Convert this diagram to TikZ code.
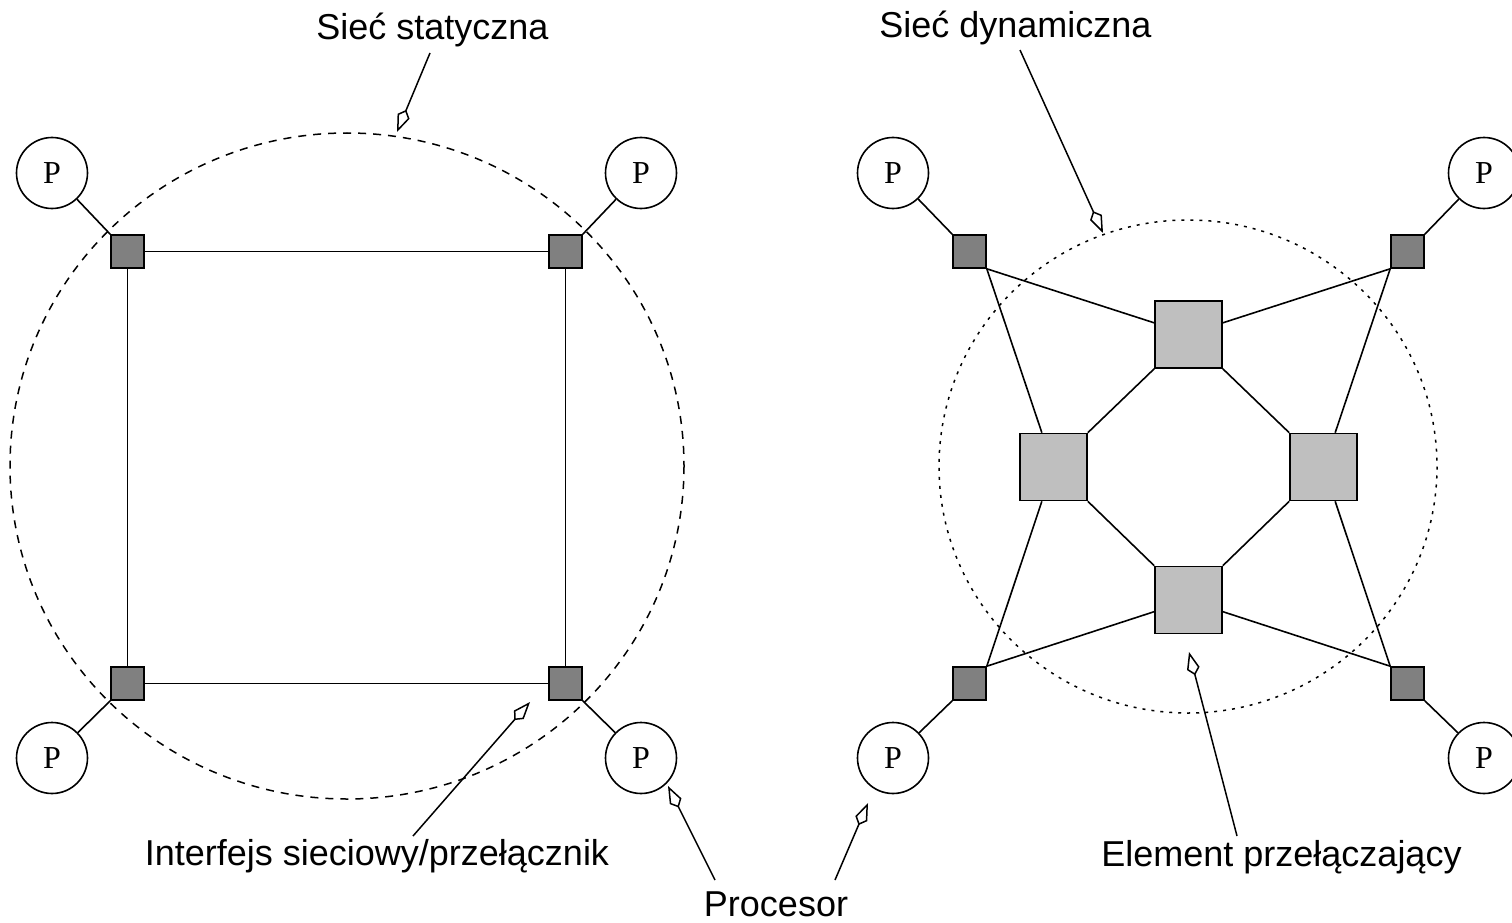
\documentclass[tikz,border=0pt]{standalone}
\usepackage{fontspec}
\setmainfont{Liberation Sans}
\newfontfamily\procfont{Liberation Serif}
\usetikzlibrary{arrows.meta,calc}

\begin{document}
\begin{tikzpicture}[x=1pt,y=-1pt,
  line width=1.6pt,
  proc/.style={circle,draw,fill=white,minimum size=71pt,inner sep=0pt,
    font=\procfont\fontsize{32}{32}\selectfont},
  iface/.style={rectangle,draw,fill=black!50,minimum size=33pt,inner sep=0pt},
  switchbox/.style={rectangle,draw,fill=black!25,minimum size=67pt,inner sep=0pt},
  caption/.style={anchor=base,inner sep=0pt,font=\fontsize{36}{40}\selectfont},
  pointer/.style={line width=1.5pt,-{Kite[open,length=24pt,width=13pt,inset=7pt]}},
  staticring/.style={line width=1.5pt,dash pattern=on 8pt off 7pt},
  dynring/.style={line width=1.5pt,dash pattern=on 3pt off 6pt},
]
\clip (0,0) rectangle (1512,923);
\fill[white] (0,0) rectangle (1512,923);

% ---------- static network ----------
\draw[staticring] (347,466) ellipse [x radius=337, y radius=333];

\node[iface] (s1) at (127.5,251.5) {};
\node[iface] (s2) at (565.5,251.5) {};
\node[iface] (s3) at (127.5,683.5) {};
\node[iface] (s4) at (565.5,683.5) {};

\node[proc] (p1) at (52,173) {P};
\node[proc] (p2) at (641,173) {P};
\node[proc] (p3) at (52,758) {P};
\node[proc] (p4) at (641,758) {P};

\draw (s1) -- (s2);
\draw (s2) -- (s4);
\draw (s4) -- (s3);
\draw (s3) -- (s1);

\draw (p1) -- (s1.north west);
\draw (p2) -- (s2.north east);
\draw (p3) -- (s3.south west);
\draw (p4) -- (s4.south east);

% ---------- dynamic network ----------
\draw[dynring] (1188,466.5) ellipse [x radius=249, y radius=246.5];

\node[iface] (d1) at (969.5,251.5) {};
\node[iface] (d2) at (1407.5,251.5) {};
\node[iface] (d3) at (969.5,683.5) {};
\node[iface] (d4) at (1407.5,683.5) {};

\node[proc] (q1) at (893,173) {P};
\node[proc] (q2) at (1484,173) {P};
\node[proc] (q3) at (893,758) {P};
\node[proc] (q4) at (1484,758) {P};

\node[switchbox] (T) at (1188.5,334.5) {};
\node[switchbox] (L) at (1053.5,467) {};
\node[switchbox] (R) at (1323.5,467) {};
\node[switchbox] (B) at (1188.5,600) {};

% octagon between switching elements
\draw (T.south west) -- (L.north east);
\draw (T.south east) -- (R.north west);
\draw (L.south east) -- (B.north west);
\draw (R.south west) -- (B.north east);

% interfaces to switching elements
\draw (d1.south east) -- ($(T.north west)!0.33!(T.south west)$);
\draw (d1.south east) -- ($(L.north west)!0.33!(L.north east)$);
\draw (d2.south west) -- ($(T.north east)!0.33!(T.south east)$);
\draw (d2.south west) -- ($(R.north east)!0.33!(R.north west)$);
\draw (d3.north east) -- ($(L.south west)!0.33!(L.south east)$);
\draw (d3.north east) -- ($(B.south west)!0.33!(B.north west)$);
\draw (d4.north west) -- ($(R.south east)!0.33!(R.south west)$);
\draw (d4.north west) -- ($(B.south east)!0.33!(B.north east)$);

\draw (q1) -- (d1.north west);
\draw (q2) -- (d2.north east);
\draw (q3) -- (d3.south west);
\draw (q4) -- (d4.south east);

% ---------- captions ----------
\node[caption] (cstat) at (432.5,40) {Sieć statyczna};
\node[caption] (cdyn) at (1015.5,38) {Sieć dynamiczna};
\node[caption] (ciface) at (377,865) {Interfejs sieciowy/przełącznik};
\node[caption] (cproc) at (776,916) {Procesor};
\node[caption] (celem) at (1281.5,866) {Element przełączający};

% pointer ends
\coordinate (a1s) at (430,53);   \coordinate (a1e) at (397,132);
\coordinate (a2s) at (1020,50);  \coordinate (a2e) at (1103,233);
\coordinate (a3s) at (413,836);  \coordinate (a3e) at (530,702);
\coordinate (a4s) at (715,880);  \coordinate (a4e) at (668,786);
\coordinate (a5s) at (835,880);  \coordinate (a5e) at (868,803);
\coordinate (a6s) at (1237,836); \coordinate (a6e) at (1189,652);

\draw[pointer] (a1s) -- (a1e);
\draw[pointer] (a2s) -- (a2e);
\draw[pointer] (a3s) -- (a3e);
\draw[pointer] (a4s) -- (a4e);
\draw[pointer] (a5s) -- (a5e);
\draw[pointer] (a6s) -- (a6e);
\end{tikzpicture}
\end{document}
